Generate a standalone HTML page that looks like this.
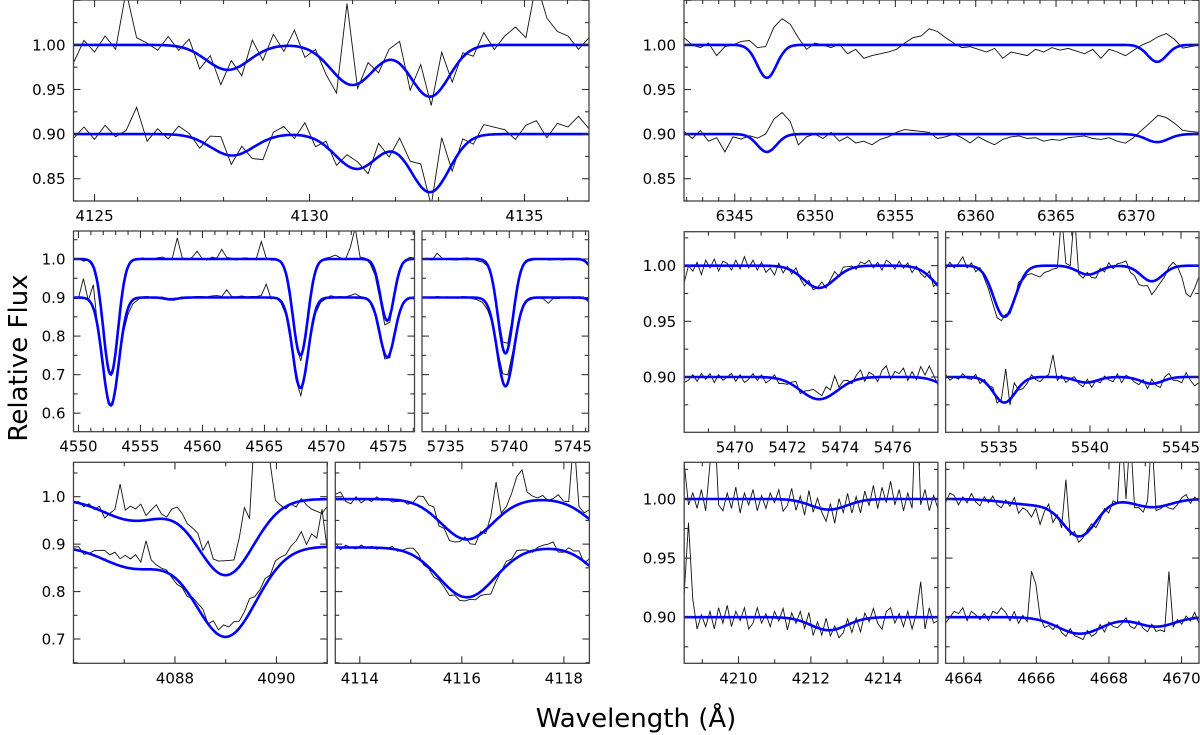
<!DOCTYPE html>
<html><head><meta charset="utf-8">
<style>
html,body{margin:0;padding:0;background:#fff;}
svg{display:block;font-family:"DejaVu Sans","Liberation Sans",sans-serif;}
</style></head>
<body>
<svg id="chart" width="1200" height="735" viewBox="0 0 1200 735" xmlns="http://www.w3.org/2000/svg">
<text x="0" y="0" transform="translate(27,358) rotate(-90)" text-anchor="middle" font-size="26" fill="#000">Relative Flux</text>
<text x="636" y="727" text-anchor="middle" font-size="26" fill="#000">Wavelength (Å)</text>
</svg>
<script>
// ---- model line parameters: [center, depth, sigma] ----
const lines_A_upper = [[4128.1,0.028,0.5],[4131.0,0.045,0.5],[4132.8,0.058,0.45]];
const lines_A_lower = [[4128.2,0.024,0.5],[4131.1,0.039,0.5],[4132.8,0.065,0.45]];
const lines_B_upper = [[6347.0,0.037,0.6],[6371.3,0.019,0.6]];
const lines_B_lower = [[6347.0,0.020,0.6],[6371.3,0.009,0.7]];
const lines_C_upper = [[4552.6,0.30,0.6],[4567.9,0.25,0.6],[4574.9,0.16,0.55]];
const lines_C_lower = [[4552.6,0.28,0.65],[4557.5,0.005,0.5],[4567.9,0.235,0.62],[4574.9,0.155,0.6]];
const lines_D_upper = [[5739.7,0.245,0.6],[5747.0,0.05,0.5]];
const lines_D_lower = [[5739.7,0.23,0.65],[5747.1,0.03,0.5]];
const lines_E_upper = [[4087.2,0.045,0.6],[4089.0,0.16,0.55]];
const lines_E_lower = [[4087.2,0.045,0.6],[4089.0,0.19,0.6]];
const lines_F_upper = [[4116.1,0.085,0.5],[4119.0,0.07,0.5]];
const lines_F_lower = [[4116.1,0.105,0.55],[4119.1,0.08,0.5]];
const lines_G_upper = [[5473.2,0.02,0.6],[5478.2,0.025,0.6]];
const lines_G_lower = [[5473.2,0.02,0.7],[5478.5,0.012,0.6]];
const lines_H_upper = [[5535.3,0.046,0.6],[5539.9,0.008,0.6],[5543.4,0.014,0.6]];
const lines_H_lower = [[5535.3,0.023,0.6],[5539.8,0.005,0.6],[5543.4,0.006,0.6]];
const lines_I_upper = [[4212.5,0.009,0.5]];
const lines_I_lower = [[4212.5,0.011,0.5]];
const lines_J_upper = [[4666.0,0.005,0.8],[4667.2,0.03,0.45],[4669.2,0.007,0.5]];
const lines_J_lower = [[4667.2,0.014,0.6],[4669.3,0.008,0.5]];
const cont_upper = [1.0,1.0,1.0,1.0,0.995,0.995,1.0,1.0,1.0,1.0];
const cont_lower = [0.9,0.9,0.9,0.9,0.895,0.893,0.9,0.9,0.9,0.9];

// ---- observed residuals (per-mille of flux, evenly spaced across panel) ----
const obs_A_upper=[-20,5,-8,10,-5,60,8,2,-6,10,-4,12,-15,8,-18,10,-12,20,-10,15,-6,18,-10,5,-12,-20,90,-5,15,-8,12,25,-15,30,-10,40,-12,5,-8,15,-5,10,20,8,70,30,15,10,-5,8];
const obs_A_lower=[-5,8,-6,10,-3,4,30,-8,6,-5,10,4,-8,12,18,-10,8,-12,-20,6,10,-4,15,-8,6,-10,12,8,-10,15,-6,20,10,25,-15,50,-8,10,-6,12,8,5,-6,10,15,-4,12,8,20,6];
const obs_B_upper=[8,0,-3,2,-12,-2,0,5,12,20,35,48,40,25,8,-5,2,0,-3,1,-10,-5,-15,-12,-10,-8,-5,2,8,10,18,15,8,2,-3,-2,-5,-8,-4,-15,-8,-10,-12,-5,-8,-3,-6,-4,-7,-10,-5,-15,-5,-8,-12,-5,5,18,28,25,10,-3,-2,0];
const obs_B_lower=[3,-5,4,-8,-4,-20,-3,-5,2,8,20,32,30,15,-12,-3,0,-5,2,-8,-3,-10,-8,-12,-6,-3,2,5,4,3,2,-5,-3,0,-4,-10,-3,-8,-12,-6,-3,-2,-5,-4,-8,-6,-7,-4,-3,-2,-5,-6,-4,-8,-10,-3,8,20,30,25,15,5,3,2];
const obs_C_upper=[-3,2,-5,1,-4,-2,-5,-8,-10,-3,3,-2,2,-1,3,0,-2,3,5,-1,2,55,3,-2,4,20,2,-3,5,2,25,4,2,-3,2,3,0,2,45,3,-3,-2,2,-4,-8,-12,-15,-10,-5,-3,2,3,5,10,3,-2,30,80,5,3,-5,-10,-15,-20,-15,-8,-3,2,5,3];
const obs_C_lower=[-3,-2,50,-2,60,-5,-8,-10,-10,-5,-8,-15,-10,-5,2,3,-2,2,3,2,3,2,3,-2,2,3,3,2,4,5,3,20,3,2,4,2,3,3,5,35,-3,2,-5,-5,-10,-15,-20,-12,-5,-8,-5,-3,5,2,3,2,5,10,3,2,-3,-5,-10,-12,-10,-5,-3,2,3,-5];
const obs_D_upper=[0,2,-3,15,2,0,-2,-3,2,3,0,-5,-5,-3,5,10,15,15,10,5,2,-3,-2,0,1,-3,-2,-1,-3,2,0,-2,3,-2];
const obs_D_lower=[2,0,-2,3,1,2,0,-2,3,2,-3,-5,-8,-10,0,10,20,20,15,10,5,-3,-2,0,-3,-15,-2,-3,0,2,-3,0,3,-5];
const obs_E_upper=[0,3,-5,5,-3,8,-12,2,15,72,20,30,25,35,10,20,30,10,5,25,35,30,20,25,30,10,45,20,25,30,30,25,60,110,70,240,200,220,120,30,10,-5,0,-10,5,-10,-20,-25,-30,-15];
const obs_E_lower=[5,8,-5,0,10,15,20,15,25,15,25,20,30,15,60,20,10,5,5,-5,-10,-5,-10,5,10,15,0,20,10,25,20,25,15,20,30,15,10,15,5,20,15,10,20,25,40,10,30,20,80,-5];
const obs_F_upper=[10,15,-5,-10,5,-8,0,-5,5,-3,2,-5,-3,0,-5,2,20,25,15,20,-10,-5,-20,-15,-8,5,-10,-15,5,-8,20,80,5,10,30,60,70,20,10,5,10,0,5,15,5,8,150,10,5,20];
const obs_F_lower=[10,-5,5,0,-3,5,-2,3,-3,2,0,5,-3,2,10,15,10,-5,-3,-10,-5,-8,-15,-5,-10,-8,-5,-10,-8,-15,-25,-10,0,10,5,15,10,5,-3,5,8,10,15,-5,-3,10,8,15,-3,15];
const obs_G_upper=[-15,0,-5,3,-8,5,-2,6,-5,4,2,-4,5,-3,8,-2,5,-4,3,-6,-2,-8,3,-5,2,-3,5,-2,-5,3,-3,0,5,-2,3,7,-1,5,3,2,-2,4,2,5,-2,3,-4,5,2,-3,4,-2,3,-5,2,-3,-4,5,-5,3];
const obs_G_lower=[-5,-3,2,-4,3,-2,3,-5,2,-3,0,3,-4,2,-5,-2,3,-3,2,-5,-2,3,-4,-3,-2,2,5,-3,2,5,8,6,3,10,5,15,2,5,3,-2,4,8,-3,5,2,-4,6,10,-2,5,3,8,-3,5,-2,10,3,12,5,-2];
const obs_H_upper=[-3,3,-2,2,8,-2,3,-4,2,-3,-5,-8,-10,-5,2,-3,-2,5,-2,-3,-5,-8,-10,-6,-5,-3,-2,45,3,2,50,-2,-4,2,-3,-5,2,-3,4,-2,2,3,5,-4,-5,-10,-8,-5,-12,-8,-5,-3,3,5,0,-10,-25,-28,-20,-10];
const obs_H_lower=[2,-3,0,-2,3,-1,-2,3,-4,2,0,4,-5,2,30,-5,10,-2,-5,-3,3,-2,-4,0,2,20,-3,2,-4,0,3,-2,-4,3,-5,0,-3,2,-2,-4,3,-5,2,0,-3,-4,2,-5,4,-2,-5,3,5,-2,-3,-5,4,-3,-8,-5];
const obs_I_upper=[30,-5,5,-8,8,-10,30,70,-5,-10,5,-8,10,-12,5,-5,8,-10,3,-8,5,-3,8,-10,-5,10,-8,5,-10,12,-5,8,-3,-10,5,-12,8,-5,10,-8,5,-10,8,-5,12,-8,10,-3,15,-5,8,-10,5,-8,90,-5,8,-10,3,-8];
const obs_I_lower=[20,80,15,-10,2,-8,5,-10,8,-5,10,-8,5,-3,8,-10,-5,8,-5,3,-8,5,-3,8,-10,5,-3,8,-5,10,-8,5,-5,10,-5,3,-8,-5,5,-8,3,-10,5,-3,8,-5,-10,5,8,-5,3,-8,5,-10,3,30,-10,8,-5,-3];
const obs_J_upper=[-3,5,3,-5,2,-3,5,-2,-5,3,-2,4,-3,-5,2,-3,5,-8,-3,-5,-10,-2,-15,-3,5,-8,2,-5,40,-3,3,-5,-2,2,3,-5,-3,2,-5,3,0,60,3,60,-3,-2,-5,5,60,-3,-2,0,-3,-5,-2,3,5,-3,2,-2];
const obs_J_lower=[-5,0,5,3,8,-3,5,2,-2,3,-3,5,3,8,4,-3,5,-5,2,-3,40,30,3,-5,-2,-4,2,-3,-5,3,-2,-3,-5,2,-4,-3,3,-5,2,-3,-5,-2,3,-4,-5,2,-3,-5,2,-4,-3,-5,45,-3,2,-3,3,-2,5,-5];

// ---- axis ranges and ticks ----
const xRanges=[[4124.51,4136.5],[6341.84,6373.9],[4549.6,4577.1],[5733.13,5746.24],[4086.0,4091.0],[4113.52,4118.5],[5468.08,5477.71],[5532.07,5545.99],[4208.5,4215.51],[4663.5,4670.48]];
const yRanges=[[0.825,1.0503],[0.825,1.0503],[0.552,1.0726],[0.552,1.0726],[0.6488,1.0725],[0.6488,1.0725],[0.8503,1.0305],[0.8503,1.0305],[0.861,1.031],[0.861,1.031]];
const xMajor=[[4125,4130,4135],[6345,6350,6355,6360,6365,6370],[4550,4555,4560,4565,4570,4575],[5735,5740,5745],[4088,4090],[4114,4116,4118],[5470,5472,5474,5476],[5535,5540,5545],[4210,4212,4214],[4664,4666,4668,4670]];
const yTickLabels=[["0.85","0.90","0.95","1.00"],["0.85","0.90","0.95","1.00"],["0.6","0.7","0.8","0.9","1.0"],null,["0.7","0.8","0.9","1.0"],null,["0.90","0.95","1.00"],null,["0.90","0.95","1.00"],null];
const yMajorStep=[0.05,0.05,0.1,0.1,0.1,0.1,0.05,0.05,0.05,0.05];
const keys=["A","B","C","D","E","F","G","H","I","J"];

// ---- layout (pixel boxes) ----
const boxes=[[73.5,0,589,201],[684,0,1199,201],[73.5,231,414.5,431.7],[422,231,588.6,431.7],[73.5,462.3,327.2,663.3],[335.3,462.3,589.4,663.3],[684.2,231.7,937.9,432.3],[945.6,231.7,1199,432.3],[684.2,462.3,937.9,663.3],[945.6,462.3,1199,663.3]];
const xMinorStep=[1,1,1,1,1,1,1,1,1,1];

const svg=document.getElementById('chart');
const NS='http://www.w3.org/2000/svg';
function mk(tag,attrs){const e=document.createElementNS(NS,tag);for(const k in attrs)e.setAttribute(k,attrs[k]);return e;}
function model(lines,c,x){let v=c;for(const l of lines)v-=l[1]*Math.exp(-0.5*Math.pow((x-l[0])/l[2],2));return v;}

keys.forEach((k,p)=>{
  const [L,T,R,B]=boxes[p];
  const [x0,x1]=xRanges[p],[y0,y1]=yRanges[p];
  const sx=x=>L+(x-x0)/(x1-x0)*(R-L);
  const sy=y=>B-(y-y0)/(y1-y0)*(B-T);
  const g=mk('g',{});
  
  
  svg.appendChild(g);
  const cp=mk('clipPath',{id:'clip'+k});
  cp.appendChild(mk('rect',{x:L,y:T,width:R-L,height:B-T}));
  g.appendChild(cp);
  const plot=mk('g',{'clip-path':'url(#clip'+k+')'});
  g.appendChild(plot);
  const series=[['upper',cont_upper[p]],['lower',cont_lower[p]]];
  series.forEach(([s,c])=>{
    const lines=window.eval('lines_'+k+'_'+s);
    const obs=window.eval('obs_'+k+'_'+s);
    let d='';
    const n=obs.length;
    for(let i=0;i<n;i++){const x=x0+i*(x1-x0)/(n-1);const y=model(lines,c,x)+obs[i]/1000;d+=(i?'L':'M')+sx(x).toFixed(1)+','+sy(y).toFixed(1);}
    const o=mk('path',{d:d,fill:'none',stroke:'#111','stroke-width':0.9});
    
    
    plot.appendChild(o);
    let dm='';
    for(let i=0;i<=300;i++){const x=x0+i*(x1-x0)/300;dm+=(i?'L':'M')+sx(x).toFixed(1)+','+sy(model(lines,c,x)).toFixed(1);}
    const m=mk('path',{d:dm,fill:'none',stroke:'#0000ff','stroke-width':2.6});
    
    
    plot.appendChild(m);
  });
  const frame=mk('rect',{x:L,y:T,width:R-L,height:B-T,fill:'none',stroke:'#444','stroke-width':1.3});
  
  
  g.appendChild(frame);
  const tk=mk('g',{stroke:'#333','stroke-width':1.1});
  g.appendChild(tk);
  for(let v=Math.ceil(x0/xMinorStep[p])*xMinorStep[p];v<=x1;v+=xMinorStep[p]){
    const X=sx(v);const isMaj=xMajor[p].some(t=>Math.abs(t-v)<1e-6);const len=isMaj?7:4;
    tk.appendChild(mk('line',{x1:X,y1:B,x2:X,y2:B-len}));
    tk.appendChild(mk('line',{x1:X,y1:T,x2:X,y2:T+len}));
  }
  xMajor[p].forEach(v=>{
    const t=mk('text',{x:sx(v),y:B+20,'text-anchor':'middle','font-size':15,fill:'#000'});
    t.textContent=String(v);
    
    
    g.appendChild(t);
  });
  const st=yMajorStep[p],mst=st/2;
  for(let v=Math.ceil(y0/mst-1e-6)*mst;v<=y1+1e-9;v+=mst){
    const Y=sy(v);const isMaj=Math.abs(v/st-Math.round(v/st))<1e-4;const len=isMaj?7:4;
    tk.appendChild(mk('line',{x1:L,y1:Y,x2:L+len,y2:Y}));
    tk.appendChild(mk('line',{x1:R,y1:Y,x2:R-len,y2:Y}));
  }
  if(yTickLabels[p]){
    yTickLabels[p].forEach(lab=>{
      const t=mk('text',{x:L-8,y:sy(parseFloat(lab))+5.5,'text-anchor':'end','font-size':15,fill:'#000'});
      t.textContent=lab;
      
      
      g.appendChild(t);
    });
  }
});
</script>
</body></html>
